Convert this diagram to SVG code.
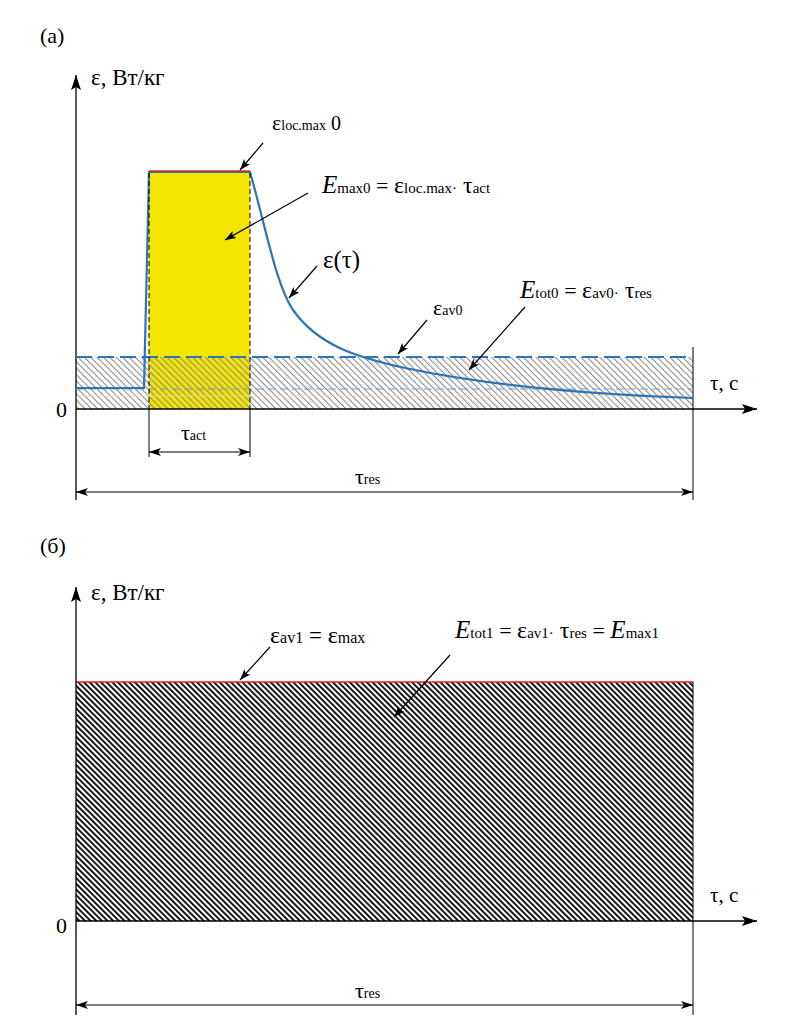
<svg xmlns="http://www.w3.org/2000/svg" width="809" height="1036" viewBox="0 0 809 1036" font-family="'Liberation Serif','Times New Roman',serif">
<style>
text{font-family:'Liberation Serif','Times New Roman',serif;fill:#000}
.ax{stroke:#000;stroke-width:1.3;fill:none}
.thin{stroke:#000;stroke-width:1;fill:none}
.lead{stroke:#000;stroke-width:1.2;fill:none}
.it{font-style:italic}
</style>
<defs>
<marker id="axArr" markerUnits="userSpaceOnUse" markerWidth="16" markerHeight="12" refX="15" refY="6" orient="auto"><path d="M0,1 L15,6 L0,11 L3,6 Z" fill="#000"/></marker>
<marker id="dimArr" markerUnits="userSpaceOnUse" markerWidth="13" markerHeight="9" refX="12" refY="4.5" orient="auto-start-reverse"><path d="M0,0.5 L12,4.5 L0,8.5 L3,4.5 Z" fill="#000"/></marker>
<marker id="ldArr" markerUnits="userSpaceOnUse" markerWidth="12" markerHeight="9" refX="11" refY="4.5" orient="auto"><path d="M0,0.5 L11,4.5 L0,8.5 L2.5,4.5 Z" fill="#000"/></marker>
<pattern id="hatchG" patternUnits="userSpaceOnUse" width="4.5" height="4.5" patternTransform="rotate(-45)"><rect x="0" y="0" width="1.1" height="4.5" fill="#8c8c8c"/></pattern>
<pattern id="hatchK" patternUnits="userSpaceOnUse" width="4" height="4" patternTransform="rotate(-45)"><rect x="0" y="0" width="1.8" height="4" fill="#000"/></pattern>
</defs>

<g id="panel-a">
  <text x="40" y="43" font-size="22">(а)</text>
  <g id="a-fills">
    <rect x="149" y="171" width="101" height="238" fill="#f3e500"/>
    <rect x="76" y="357" width="617" height="52" fill="url(#hatchG)"/>
    <line x1="76" y1="396" x2="693" y2="396" stroke="#f4d6b8" stroke-width="0.7"/>
  </g>
  <g id="a-axes">
    <path class="ax" d="M76,500 L76,75" marker-end="url(#axArr)"/>
    <path class="ax" d="M76,409 L757,409" marker-end="url(#axArr)"/>
    <line class="thin" x1="693" y1="347" x2="693" y2="500"/>
    <text x="91" y="85" font-size="23">ε, Вт/кг</text>
    <text x="56" y="417" font-size="22">0</text>
    <text x="710" y="390" font-size="21">τ, с</text>
  </g>
  <g id="a-lines">
    <line x1="76" y1="389" x2="693" y2="389" stroke="#7f9cbc" stroke-width="1" stroke-dasharray="8,4"/>
    <line x1="76" y1="357" x2="693" y2="357" stroke="#2e75b6" stroke-width="2" stroke-dasharray="16,6"/>
    <path d="M76,388 L144,388 L149,172 L250,172 C266,228 276,285 293,310 C318,345 355,357 405,368 C490,386 600,395 693,398" fill="none" stroke="#2e75b6" stroke-width="2.2"/>
    <line x1="149" y1="171" x2="250" y2="171" stroke="#e52222" stroke-width="1.6"/>
    <line x1="149" y1="173" x2="149" y2="409" stroke="#000" stroke-width="1" stroke-dasharray="5,3"/>
    <line x1="250" y1="173" x2="250" y2="409" stroke="#000" stroke-width="1" stroke-dasharray="5,3"/>
  </g>
  <g id="a-dims">
    <line class="thin" x1="149" y1="409" x2="149" y2="457"/>
    <line class="thin" x1="250" y1="409" x2="250" y2="457"/>
    <line class="thin" x1="149" y1="452" x2="250" y2="452" marker-start="url(#dimArr)" marker-end="url(#dimArr)"/>
    <text x="181" y="440"><tspan font-size="22">τ</tspan><tspan font-size="14">act</tspan></text>
    <line class="thin" x1="76" y1="492" x2="693" y2="492" marker-start="url(#dimArr)" marker-end="url(#dimArr)"/>
    <text x="355" y="484"><tspan font-size="22">τ</tspan><tspan font-size="14">res</tspan></text>
  </g>
  <g id="a-labels">
    <text x="272" y="130"><tspan font-size="22">ε</tspan><tspan font-size="14">loc.max</tspan><tspan font-size="20"> 0</tspan></text>
    <line class="lead" x1="263" y1="143" x2="240" y2="170" marker-end="url(#ldArr)"/>
    <text x="322" y="193"><tspan font-size="25" class="it">E</tspan><tspan font-size="15">max0</tspan><tspan font-size="22"> = </tspan><tspan font-size="24">ε</tspan><tspan font-size="15">loc.max·</tspan><tspan font-size="24"> τ</tspan><tspan font-size="15">act</tspan></text>
    <line class="lead" x1="308" y1="193" x2="225" y2="240" marker-end="url(#ldArr)"/>
    <text x="323" y="268" font-size="25">ε(τ)</text>
    <line class="lead" x1="317" y1="266" x2="289" y2="298" marker-end="url(#ldArr)"/>
    <text x="433" y="315"><tspan font-size="22">ε</tspan><tspan font-size="14">av0</tspan></text>
    <line class="lead" x1="427" y1="320" x2="398" y2="354" marker-end="url(#ldArr)"/>
    <text x="520" y="298"><tspan font-size="25" class="it">E</tspan><tspan font-size="15">tot0</tspan><tspan font-size="22"> = </tspan><tspan font-size="24">ε</tspan><tspan font-size="15">av0·</tspan><tspan font-size="24"> τ</tspan><tspan font-size="15">res</tspan></text>
    <line class="lead" x1="525" y1="307" x2="469" y2="370" marker-end="url(#ldArr)"/>
  </g>
</g>

<g id="panel-b">
  <text x="40" y="553" font-size="22">(б)</text>
  <g id="b-fills">
    <rect x="76" y="682" width="617" height="239" fill="url(#hatchK)"/>
    <line x1="76" y1="682" x2="693" y2="682" stroke="#e52222" stroke-width="1.6"/>
  </g>
  <g id="b-axes">
    <path class="ax" d="M76,1015 L76,587" marker-end="url(#axArr)"/>
    <path class="ax" d="M76,921 L757,921" marker-end="url(#axArr)"/>
    <line class="thin" x1="693" y1="682" x2="693" y2="1015"/>
    <text x="91" y="600" font-size="23">ε, Вт/кг</text>
    <text x="56" y="933" font-size="22">0</text>
    <text x="710" y="902" font-size="21">τ, с</text>
  </g>
  <g id="b-dims">
    <line class="thin" x1="76" y1="1005" x2="693" y2="1005" marker-start="url(#dimArr)" marker-end="url(#dimArr)"/>
    <text x="355" y="998"><tspan font-size="22">τ</tspan><tspan font-size="14">res</tspan></text>
  </g>
  <g id="b-labels">
    <text x="270" y="643"><tspan font-size="24">ε</tspan><tspan font-size="16">av1</tspan><tspan font-size="23"> = </tspan><tspan font-size="24">ε</tspan><tspan font-size="16">max</tspan></text>
    <line class="lead" x1="270" y1="647" x2="240" y2="680" marker-end="url(#ldArr)"/>
    <text x="455" y="638"><tspan font-size="25" class="it">E</tspan><tspan font-size="15">tot1</tspan><tspan font-size="22"> = </tspan><tspan font-size="24">ε</tspan><tspan font-size="15">av1·</tspan><tspan font-size="24"> τ</tspan><tspan font-size="15">res</tspan><tspan font-size="22"> = </tspan><tspan font-size="25" class="it">E</tspan><tspan font-size="15">max1</tspan></text>
    <line class="lead" x1="450" y1="655" x2="394" y2="717" marker-end="url(#ldArr)"/>
  </g>
</g>
</svg>
